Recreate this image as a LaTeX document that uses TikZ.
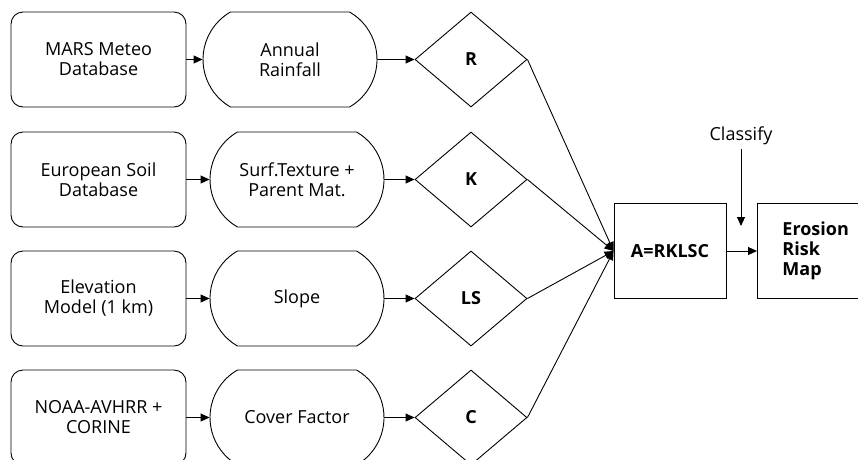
\documentclass[tikz,border=0pt]{standalone}
\usepackage{fontspec}
\setmainfont{Open Sans}
\usetikzlibrary{shapes.geometric,shapes.misc,arrows.meta}
\tikzset{
  base/.style={draw=black,line width=0.9pt,inner sep=0pt,align=center,
    font=\fontsize{18}{20}\selectfont},
  srcbox/.style={base,rectangle,rounded corners=12pt,minimum width=175pt,minimum height=95pt},
  pill/.style={base,rounded rectangle,rounded rectangle arc length=120,minimum width=174pt,minimum height=95pt},
  factor/.style={base,diamond,minimum width=112pt,minimum height=95pt,font=\fontsize{18}{20}\selectfont\bfseries},
  result/.style={base,rectangle,minimum width=112pt,minimum height=95pt,font=\fontsize{18}{20}\selectfont\bfseries},
  arr/.style={line width=0.9pt,-{Triangle[length=9pt,width=8pt]}},
  lbl/.style={font=\fontsize{18}{20}\selectfont,inner sep=0pt}
}
\begin{document}
\begin{tikzpicture}[x=1pt,y=-1pt]
\useasboundingbox (0,0) rectangle (858,459);
\clip (0,0) rectangle (858,459);
% sources
\node[srcbox] (s1) at (98.5,59.5) {MARS Meteo\\Database};
\node[srcbox] (s2) at (98.5,179.5) {European Soil\\Database};
\node[srcbox] (s3) at (98.5,298.5) {Elevation\\Model (1 km)};
\node[srcbox] (s4) at (98.5,417.5) {NOAA-AVHRR +\\CORINE};
% derived
\node[pill] (p1) at (290,59.5) {Annual\\Rainfall};
\node[pill] (p2) at (297,179.5) {Surf.Texture +\\Parent Mat.};
\node[pill] (p3) at (297,298.5) {Slope};
\node[pill] (p4) at (297,417.5) {Cover Factor};
% factors
\node[factor] (R) at (471,59.5) {R};
\node[factor] (K) at (471,179.5) {K};
\node[factor] (LS) at (471,298.5) {LS};
\node[factor] (C) at (471,417.5) {C};
% model
\node[result] (A) at (670,251) {A=RKLSC};
\node[result,align=left,text width=90pt,inner xsep=25pt,anchor=west] (E) at (757,251) {Erosion\\Risk\\Map};
\node[lbl] (cls) at (741,136) {Classify};
\coordinate (clsend) at (741,226);
% connectors
\foreach \i in {1,2,3,4}{\draw[arr] (s\i.east) -- (p\i.west);}
\draw[arr] (p1.east) -- (R.west);
\draw[arr] (p2.east) -- (K.west);
\draw[arr] (p3.east) -- (LS.west);
\draw[arr] (p4.east) -- (C.west);
\draw[arr] (R.east) -- (A.west);
\draw[arr] (K.east) -- (A.west);
\draw[arr] (LS.east) -- (A.west);
\draw[arr] (C.east) -- (A.west);
\draw[arr] (A.east) -- (E.west);
\draw[arr] (cls.south) ++(0,4) -- (clsend);
\end{tikzpicture}
\end{document}
